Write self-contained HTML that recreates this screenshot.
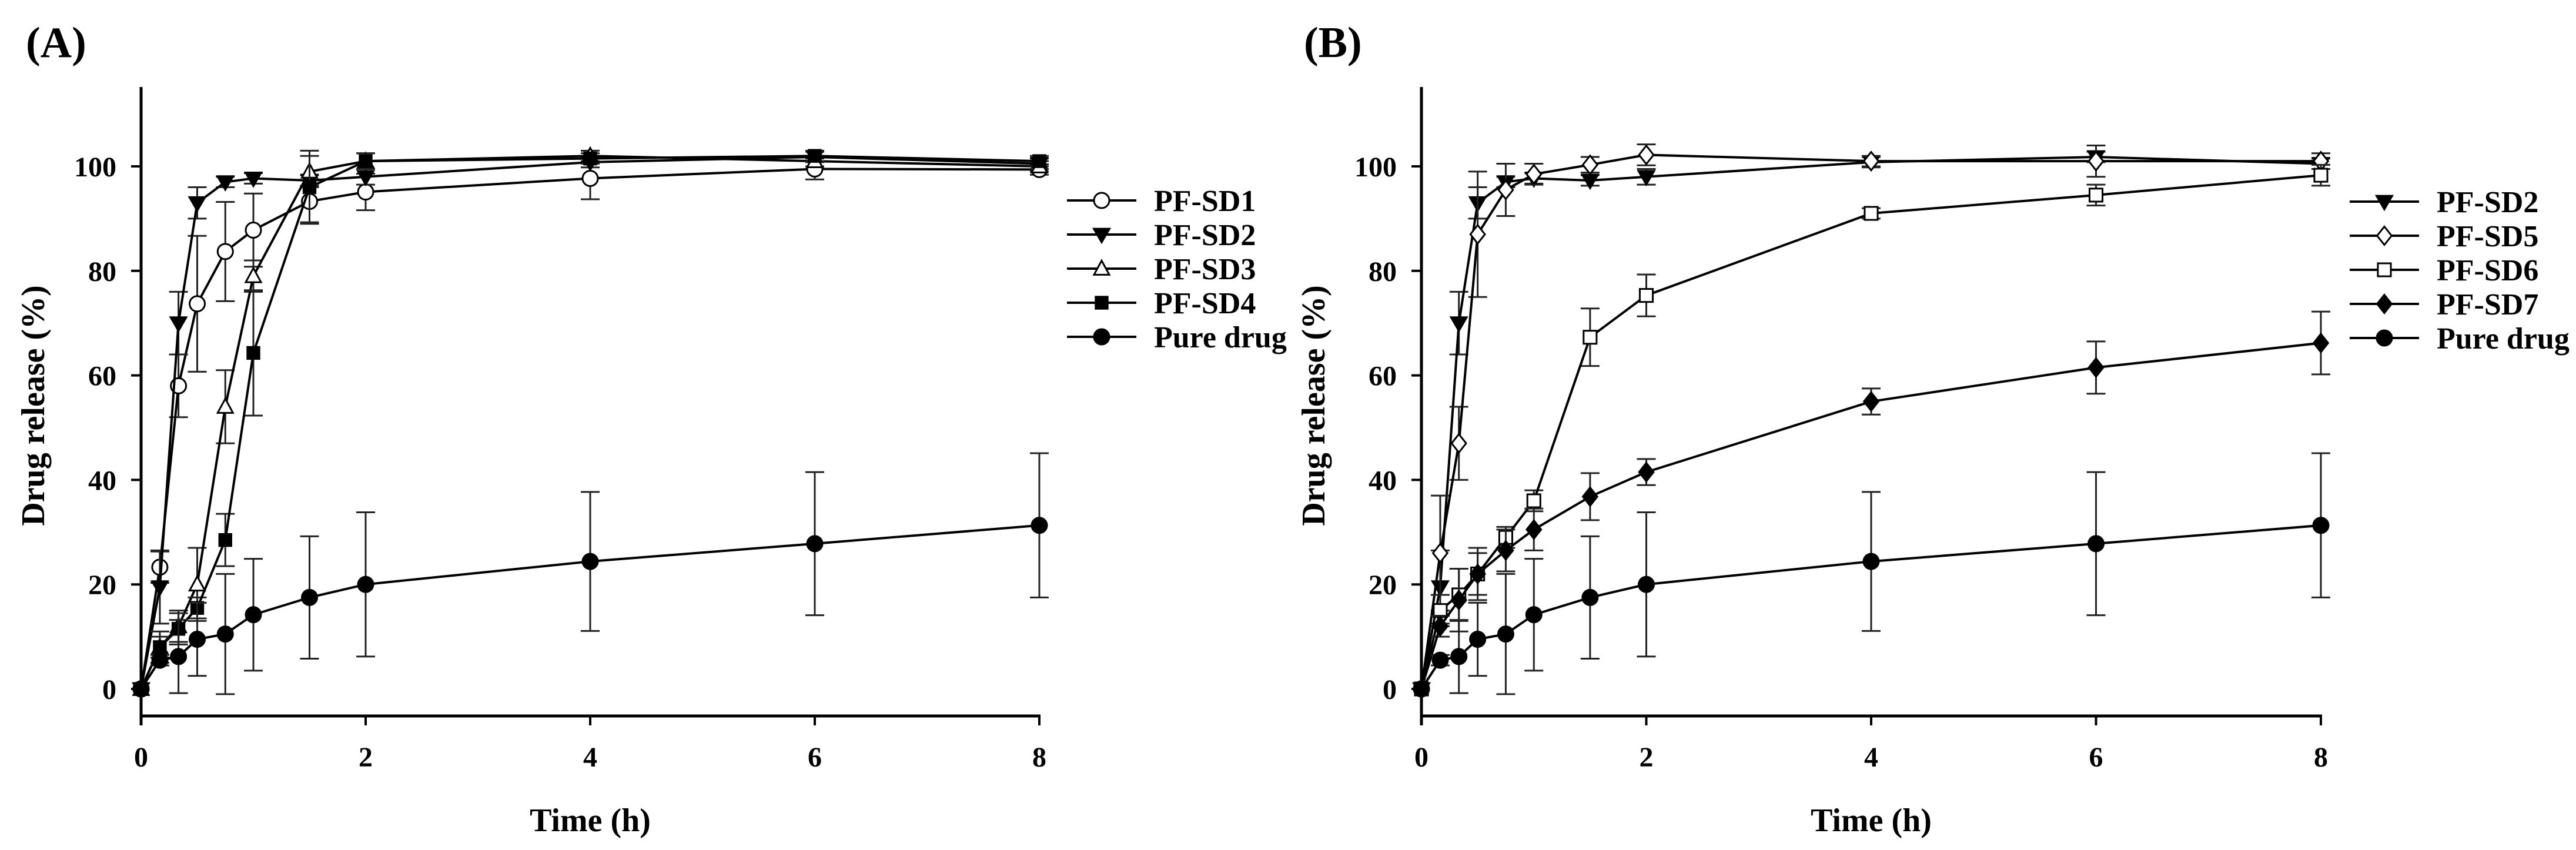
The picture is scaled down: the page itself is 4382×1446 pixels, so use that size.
<!DOCTYPE html>
<html><head><meta charset="utf-8"><style>
html,body{margin:0;padding:0;background:#fff;}
svg{display:block;font-family:"Liberation Serif",serif;font-weight:bold;}
</style></head>
<body>
<svg id="chart" width="4382" height="1446" viewBox="0 0 4382 1446" xmlns="http://www.w3.org/2000/svg">
<rect width="4382" height="1446" fill="#fff"/>
</svg>
<script>
const times = [0, 0.167, 0.333, 0.5, 0.75, 1, 1.5, 2, 4, 6, 8];
const xTicks = [0, 2, 4, 6, 8];
const yTicks = [0, 20, 40, 60, 80, 100];
const sd1 = [0, 23.3, 58, 73.7, 83.7, 87.8, 93.3, 95.1, 97.7, 99.5, 99.4];
const sd1Err = [0, 3, 6, 13, 9.5, 7, 4, 3.5, 4, 2, 1];
const sd2 = [0, 19.5, 70, 93, 97, 97.7, 97.3, 98, 100.8, 101.8, 100.5];
const sd2Err = [0, 7, 6, 3, 1, 1, 1, 1.5, 1, 1, 1];
const sd3 = [0, 8, 12, 20, 54, 79, 99, 101, 102, 101, 100];
const sd3Err = [0, 3, 3, 7, 7, 3, 3, 1.5, 1, 1, 1];
const sd4 = [0, 8, 11.5, 15.5, 28.5, 64.3, 96, 101, 101.5, 102, 101];
const sd4Err = [0, 2, 3, 2, 5, 12, 7, 1.5, 1, 1, 1];
const sd5 = [0, 26, 47, 87, 95.5, 98.5, 100.3, 102.2, 101, 101, 101];
const sd5Err = [0, 11, 7, 12, 5, 2, 1.5, 2, 1, 3, 1.5];
const sd6 = [0, 15, 18, 22, 29, 36, 67.3, 75.3, 91, 94.5, 98.3];
const sd6Err = [0, 3, 5, 5, 2, 2, 5.5, 4, 1, 2, 2];
const sd7 = [0, 12, 17, 22, 26.5, 30.5, 36.8, 41.5, 55, 61.5, 66.2];
const sd7Err = [0, 2, 6, 4, 4, 4, 4.5, 2.5, 2.5, 5, 6];
const pure = [0, 5.5, 6.2, 9.5, 10.5, 14.2, 17.5, 20, 24.4, 27.8, 31.3];
const pureErr = [0, 1, 7, 7, 11.5, 10.7, 11.7, 13.8, 13.3, 13.7, 13.8];

const NS = "http://www.w3.org/2000/svg";
const svg = document.getElementById("chart");
function mk(tag, attrs, parent, text) {
  const e = document.createElementNS(NS, tag);
  for (const k in attrs) e.setAttribute(k, attrs[k]);
  if (text !== undefined) e.textContent = text;
  (parent || svg).appendChild(e);
  return e;
}
function marker(g, type, cx, cy, s) {
  let e;
  if (type === "circleO" || type === "circleF") {
    e = mk("circle", {cx: cx, cy: cy, r: s, fill: type === "circleF" ? "#000" : "#fff", stroke: "#000", "stroke-width": 3}, g);
  } else if (type === "triDown") {
    e = mk("polygon", {points: `${cx-s*1.1},${cy-s*0.8} ${cx+s*1.1},${cy-s*0.8} ${cx},${cy+s*1.1}`, fill: "#000", stroke: "#000", "stroke-width": 2}, g);
  } else if (type === "triUp") {
    e = mk("polygon", {points: `${cx-s},${cy+s*0.8} ${cx+s},${cy+s*0.8} ${cx},${cy-s*1.05}`, fill: "#fff", stroke: "#000", "stroke-width": 3}, g);
  } else if (type === "square") {
    e = mk("rect", {x: cx-s*0.9, y: cy-s*0.9, width: s*1.8, height: s*1.8, fill: "#000"}, g);
  } else if (type === "squareO") {
    e = mk("rect", {x: cx-s*0.85, y: cy-s*0.85, width: s*1.7, height: s*1.7, fill: "#fff", stroke: "#000", "stroke-width": 3}, g);
  } else if (type === "diamondO" || type === "diamondF") {
    e = mk("polygon", {points: `${cx},${cy-s*1.2} ${cx+s*0.95},${cy} ${cx},${cy+s*1.2} ${cx-s*0.95},${cy}`, fill: type === "diamondF" ? "#000" : "#fff", stroke: "#000", "stroke-width": 3}, g);
  }
  return e;
}

function panel(cfg) {
  const x0 = cfg.x0, xEnd = cfg.x8, y0 = 1172, y100 = 283;
  const xs = v => x0 + (xEnd - x0) * v / 8;
  const ys = v => y0 + (y100 - y0) * v / 100;
  const g = mk("g", {});
  
  
  const lab = mk("text", {x: cfg.labelX, y: 97, "font-size": 74}, g, cfg.label);
  
  
  const axisY = 1218;
  const ya = mk("line", {x1: x0, y1: 148, x2: x0, y2: axisY + 16, stroke: "#000", "stroke-width": 5}, g);
  
  
  const xa = mk("line", {x1: x0, y1: axisY, x2: xEnd + 2, y2: axisY, stroke: "#000", "stroke-width": 5}, g);
  
  
  for (const t of yTicks) {
    mk("line", {x1: x0 - 17, y1: ys(t), x2: x0, y2: ys(t), stroke: "#000", "stroke-width": 4}, g);
    const tl = mk("text", {x: x0 - 42, y: ys(t) + 17, "font-size": 48, "text-anchor": "end"}, g, String(t));
    
    
  }
  for (const t of xTicks) {
    mk("line", {x1: xs(t), y1: axisY, x2: xs(t), y2: axisY + 16, stroke: "#000", "stroke-width": 4}, g);
    const tl = mk("text", {x: xs(t), y: 1304, "font-size": 48, "text-anchor": "middle"}, g, String(t));
    
    
  }
  const xt = mk("text", {x: (x0 + xEnd) / 2, y: 1414, "font-size": 56, "text-anchor": "middle"}, g, "Time (h)");
  
  
  const yt = mk("text", {x: 0, y: 0, "font-size": 56, "text-anchor": "middle", transform: `translate(${x0 - 165},690) rotate(-90)`}, g, "Drug release (%)");
  
  
  cfg.series.forEach((s, si) => {
    const sg = mk("g", {}, g);
    
    
    times.forEach((t, i) => {
      const e = s.err[i];
      if (!e) return;
      const cx = xs(t);
      mk("line", {x1: cx, y1: ys(s.vals[i] + e), x2: cx, y2: ys(s.vals[i] - e), stroke: "#222", "stroke-width": 3}, sg);
      mk("line", {x1: cx - 16, y1: ys(s.vals[i] + e), x2: cx + 16, y2: ys(s.vals[i] + e), stroke: "#222", "stroke-width": 3}, sg);
      mk("line", {x1: cx - 16, y1: ys(s.vals[i] - e), x2: cx + 16, y2: ys(s.vals[i] - e), stroke: "#222", "stroke-width": 3}, sg);
    });
    const pts = times.map((t, i) => xs(t) + "," + ys(s.vals[i])).join(" ");
    const pl = mk("polyline", {points: pts, fill: "none", stroke: "#000", "stroke-width": 4}, sg);
    
    
    times.forEach((t, i) => {
      const m = marker(sg, s.m, xs(t), ys(s.vals[i]), 13);
      
      
    });
    const ly = cfg.legY + si * 58;
    const lg = mk("g", {}, g);
    
    
    mk("line", {x1: cfg.legX, y1: ly, x2: cfg.legX + 118, y2: ly, stroke: "#000", "stroke-width": 4}, lg);
    marker(lg, s.m, cfg.legX + 59, ly, 13);
    mk("text", {x: cfg.legX + 148, y: ly + 18, "font-size": 52}, lg, s.label);
  });
}

panel({name: "panel-a", label: "(A)", labelX: 44, x0: 240, x8: 1768, legX: 1815, legY: 341,
  series: [
    {key: "pf-sd1", label: "PF-SD1", vals: sd1, err: sd1Err, m: "circleO"},
    {key: "pf-sd2", label: "PF-SD2", vals: sd2, err: sd2Err, m: "triDown"},
    {key: "pf-sd3", label: "PF-SD3", vals: sd3, err: sd3Err, m: "triUp"},
    {key: "pf-sd4", label: "PF-SD4", vals: sd4, err: sd4Err, m: "square"},
    {key: "pure-drug", label: "Pure drug", vals: pure, err: pureErr, m: "circleF"}
  ]});
panel({name: "panel-b", label: "(B)", labelX: 2218, x0: 2418, x8: 3948, legX: 3997, legY: 343,
  series: [
    {key: "pf-sd2", label: "PF-SD2", vals: sd2, err: sd2Err, m: "triDown"},
    {key: "pf-sd5", label: "PF-SD5", vals: sd5, err: sd5Err, m: "diamondO"},
    {key: "pf-sd6", label: "PF-SD6", vals: sd6, err: sd6Err, m: "squareO"},
    {key: "pf-sd7", label: "PF-SD7", vals: sd7, err: sd7Err, m: "diamondF"},
    {key: "pure-drug", label: "Pure drug", vals: pure, err: pureErr, m: "circleF"}
  ]});
</script>
</body></html>
